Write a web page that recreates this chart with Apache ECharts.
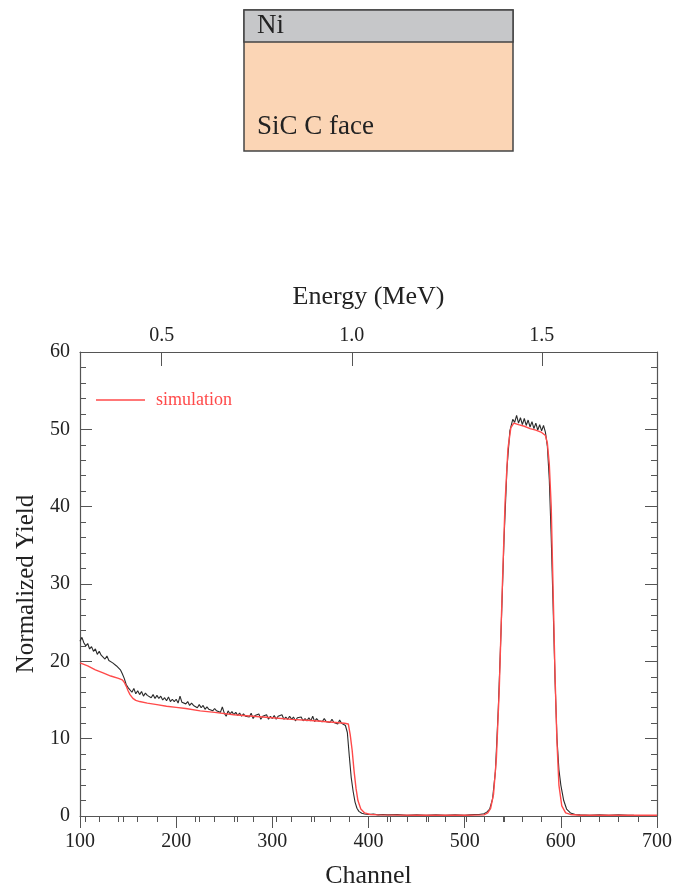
<!DOCTYPE html>
<html><head><meta charset="utf-8">
<script src="https://cdn.jsdelivr.net/npm/echarts@6/dist/echarts.min.js"></script>
<style>html,body{margin:0;padding:0;background:#fff}#c{width:675px;height:888px}</style>
</head><body><div id="c"></div><script>
// ---- data ----
const measChannel = [
100,102,104,106,108,110,112,114,116,118,
120,122,124,126,128,130,132,134,136,138,
140,142,144,146,148,150,152,154,156,158,
160,162,164,166,168,170,172,174,176,178,
180,182,184,186,188,190,192,194,196,198,
200,202,204,206,208,210,212,214,216,218,
220,222,224,226,228,230,232,234,236,238,
240,242,244,246,248,250,252,254,256,258,
260,262,264,266,268,270,272,274,276,278,
280,282,284,286,288,290,292,294,296,298,
300,302,304,306,308,310,312,314,316,318,
320,322,324,326,328,330,332,334,336,338,
340,342,344,346,348,350,352,354,356,358,
360,362,364,366,368,370,372,374,376,378,
380,382,384,386,388,390,393,396,400,405,
410,415,420,430,440,450,460,470,480,490,
500,505,510,515,520,523,526,529,532,535,
538,541,544,547,550,552,554,556,558,560,
562,564,566,568,570,572,574,576,578,580,
582,584,586,588,590,592,594,596,598,600,
603,606,610,615,620,630,640,650,660,670,
676];
const measYield = [
22.6,23.1,22.4,22.0,22.3,21.6,21.9,21.3,21.6,20.9,
21.3,20.8,21.0,20.3,20.7,20.1,20.2,19.8,20.0,19.4,
19.2,18.9,18.4,17.8,17.0,16.6,16.4,16.0,16.5,15.8,
16.2,15.7,16.1,15.5,15.9,15.6,15.8,15.3,15.7,15.2,
15.6,15.2,15.5,15.0,15.3,14.9,15.4,14.8,15.1,14.8,
15.1,14.6,15.5,14.7,14.9,14.5,14.8,14.3,14.6,14.3,
14.5,14.0,14.4,14.0,14.3,13.8,14.1,13.8,14.0,13.6,
13.9,13.6,13.8,13.4,14.1,13.3,12.9,13.6,13.2,13.5,
13.1,13.4,13.0,13.3,12.9,13.2,12.9,13.1,12.8,13.3,
12.6,13.0,12.8,13.2,12.5,12.9,12.7,13.1,12.5,12.9,
12.6,13.0,12.5,12.9,12.7,13.1,12.5,12.8,12.5,12.9,
12.5,12.8,12.3,12.7,12.5,12.8,12.3,12.6,12.3,12.7,
12.3,12.9,12.2,12.6,12.3,12.5,12.2,12.6,12.2,12.4,
12.1,12.5,12.1,12.3,11.9,12.4,12.0,12.1,11.7,10.8,
7.8,5.0,3.2,1.8,1.0,0.6,0.35,0.25,0.2,0.25,
0.15,0.2,0.15,0.2,0.1,0.15,0.1,0.15,0.1,0.15,
0.1,0.15,0.2,0.2,0.3,0.5,0.9,2.2,5.8,14.0,
24.5,36.0,45.0,49.8,51.3,50.9,51.8,50.8,51.5,50.6,
51.4,50.5,51.2,50.3,51.0,50.1,50.8,49.9,50.6,49.8,
50.5,49.6,47.8,43.5,36.0,27.0,17.5,10.0,6.0,4.0,
2.0,0.9,0.4,0.2,0.15,0.1,0.15,0.1,0.15,0.1,
0.1];
const simChannel = [
100,108,116,124,132,140,144,146,148,150,
152,155,158,162,170,180,190,200,210,225,
240,260,280,300,320,340,360,375,379,381,
383,385,387,389,392,396,402,410,450,500,
520,524,527,530,533,536,539,542,545,548,
551,556,562,568,574,580,584,586,588,590,
592,594,596,598,601,605,610,620,650,700];
const simYield = [
19.8,19.4,18.9,18.5,18.1,17.8,17.6,17.3,16.8,16.2,
15.7,15.2,14.95,14.8,14.6,14.4,14.2,14.05,13.9,13.6,
13.4,13.1,12.9,12.7,12.5,12.35,12.15,12.0,11.9,10.5,
8.5,5.8,3.6,2.0,0.9,0.4,0.2,0.15,0.1,0.1,
0.15,0.4,1.0,2.8,7.5,16.5,29,40.5,47.5,50.2,
50.8,50.6,50.4,50.1,49.9,49.6,49.2,48.2,45.5,40,
29,18,9.5,4.0,1.3,0.4,0.2,0.1,0.1,0.1];
const energyLabels = [0.5, 1.0, 1.5];
const energyMinor = [0.3,0.4,0.6,0.7,0.8,0.9,1.1,1.2,1.3,1.4,1.6,1.7];
const energyRange = [0.285, 1.803];   // energy at channel 100 and 700
const legendName = 'simulation';

// ---- chart ----
const FONT = '"Liberation Serif","Times New Roman",serif';
const AX = '#555';
const TXT = '#222';
const RED = '#ff4a4a';
const chart = echarts.init(document.getElementById('c'), null, {renderer: 'canvas'});
const zip = (a, b) => a.map((v, i) => [v, b[i]]);

chart.setOption({
  animation: false,
  backgroundColor: '#fff',
  grid: {left: 80, top: 352, width: 577, height: 464, outerBoundsMode: 'none', containLabel: false},
  legend: {
    data: [{name: legendName, icon: 'rect'}], left: 91, top: 386, itemWidth: 49, itemHeight: 1.6,
    textStyle: {color: RED, fontFamily: FONT, fontSize: 18, padding: [0, 0, 0, 6]}
  },
  graphic: [
    {type: 'rect', shape: {x: 244, y: 10, width: 269, height: 141}, style: {fill: '#fbd5b5', stroke: '#444', lineWidth: 1.5}},
    {type: 'rect', shape: {x: 244, y: 10, width: 269, height: 32}, style: {fill: '#c6c7c9', stroke: '#444', lineWidth: 1.5}},
    {type: 'text', left: 257, top: 12, style: {text: 'Ni', font: '27px ' + FONT, fill: TXT}},
    {type: 'text', left: 257, top: 113, style: {text: 'SiC C face', font: '27px ' + FONT, fill: TXT}}
  ],
  xAxis: [
    {
      type: 'value', min: 100, max: 700, interval: 100, position: 'bottom',
      name: 'Channel', nameLocation: 'middle', nameGap: 47,
      nameTextStyle: {fontFamily: FONT, fontSize: 26, color: TXT},
      axisLine: {onZero: false, lineStyle: {color: AX, width: 1.2}},
      axisTick: {inside: false, length: 12, lineStyle: {color: AX}},
      minorTick: {show: true, splitNumber: 5, length: 6, lineStyle: {color: AX}},
      axisLabel: {margin: 16, fontFamily: FONT, fontSize: 20, color: TXT},
      splitLine: {show: false}
    },
    {
      type: 'value', min: energyRange[0], max: energyRange[1], position: 'top',
      name: 'Energy (MeV)', nameLocation: 'middle', nameGap: 42,
      nameTextStyle: {fontFamily: FONT, fontSize: 26, color: TXT},
      axisLine: {onZero: false, lineStyle: {color: AX, width: 1.2}},
      axisTick: {inside: true, length: 14, customValues: energyLabels, lineStyle: {color: AX}},
      axisLabel: {customValues: energyLabels, formatter: v => v.toFixed(1), margin: 6, fontFamily: FONT, fontSize: 20, color: TXT},
      splitLine: {show: false}
    },
    {
      type: 'value', min: energyRange[0], max: energyRange[1], position: 'top',
      axisLine: {show: false},
      axisTick: {inside: true, length: 6, customValues: energyMinor, lineStyle: {color: AX}},
      axisLabel: {show: false},
      splitLine: {show: false}
    }
  ],
  yAxis: [
    {
      type: 'value', min: 0, max: 60, interval: 10, position: 'left',
      name: 'Normalized Yield', nameLocation: 'middle', nameGap: 40,
      nameTextStyle: {fontFamily: FONT, fontSize: 25, color: TXT},
      axisLine: {onZero: false, lineStyle: {color: AX, width: 1.2}},
      axisTick: {inside: true, length: 12, lineStyle: {color: AX}},
      minorTick: {show: true, splitNumber: 5, length: 6, lineStyle: {color: AX}},
      axisLabel: {margin: 10, fontFamily: FONT, fontSize: 20, color: TXT},
      splitLine: {show: false}
    },
    {
      type: 'value', min: 0, max: 60, interval: 10, position: 'right',
      axisLine: {onZero: false, lineStyle: {color: AX, width: 1.2}},
      axisTick: {inside: true, length: 12, lineStyle: {color: AX}},
      minorTick: {show: true, splitNumber: 5, length: 6, lineStyle: {color: AX}},
      axisLabel: {show: false},
      splitLine: {show: false}
    }
  ],
  series: [
    {
      name: 'measured', type: 'line', xAxisIndex: 0, yAxisIndex: 0,
      data: zip(measChannel, measYield), symbol: 'none', showSymbol: false,
      lineStyle: {color: '#2a2a2a', width: 1.1}, itemStyle: {color: '#2a2a2a'}, z: 2
    },
    {
      name: legendName, type: 'line', xAxisIndex: 0, yAxisIndex: 0,
      data: zip(simChannel, simYield), symbol: 'none', showSymbol: false,
      lineStyle: {color: RED, width: 1.4}, itemStyle: {color: RED}, z: 3
    }
  ]
});
</script></body></html>
